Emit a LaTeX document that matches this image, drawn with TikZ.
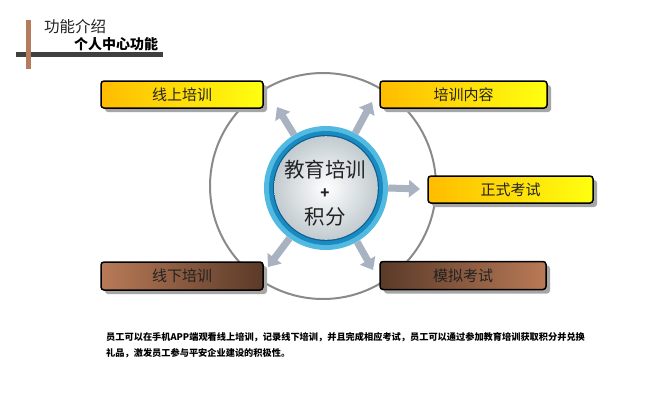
\documentclass[tikz,border=0pt]{standalone}
\usepackage{fontspec}
\setmainfont{Noto Sans CJK SC}
\usetikzlibrary{arrows.meta,shadows}
\definecolor{yelL}{HTML}{FFBC00}
\definecolor{yelR}{HTML}{FFFF10}
\definecolor{brL}{HTML}{B97A57}
\definecolor{brD}{HTML}{5A3A28}
\definecolor{orbitc}{HTML}{8A8A8A}
\definecolor{arrc}{HTML}{A8B2C0}
\definecolor{barD}{HTML}{404040}
\definecolor{barB}{HTML}{B57B5C}
\definecolor{ring1}{HTML}{52BAE0}
\definecolor{ring2}{HTML}{1A8AC2}
\definecolor{ring3}{HTML}{0F5F88}
\definecolor{diskO}{HTML}{C2CBD0}
\definecolor{txt}{HTML}{222222}
\begin{document}
\begin{tikzpicture}[x=1bp,y=-1bp,
  box/.style={draw=black, line width=1.5bp, rounded corners=3bp,
    minimum height=27bp, inner sep=0pt, text=txt,
    font=\fontsize{15bp}{18bp}\selectfont,
    drop shadow={shadow xshift=4bp, shadow yshift=-4bp, fill=black!35, opacity=1}},
  ybox/.style={box, left color=yelL, right color=yelR},
  bboxLD/.style={box, left color=brL, right color=brD},
  bboxDL/.style={box, left color=brD, right color=brL},
  garrow/.style={draw=arrc, line width=7bp, -{Triangle[width=17bp,length=11bp]}},
  ctext/.style={text=txt, font=\fontsize{20.5bp}{24bp}\selectfont, inner sep=0pt},
  btext/.style={anchor=west, inner sep=0pt, text=black, font=\bfseries\fontsize{9.2bp}{11bp}\selectfont}
]
\useasboundingbox (0,0) rectangle (645,400);
\fill[white] (0,0) rectangle (645,400);

% header
\fill[barD] (16,52) rectangle (163,57);
\fill[barB] (26,20) rectangle (31,69);
\node[anchor=west, inner sep=0pt, text=txt, font=\fontsize{15.5bp}{18bp}\selectfont] (h1) at (44,27) {功能介绍};
\node[anchor=west, inner sep=0pt, text=black, font=\bfseries\fontsize{14bp}{16bp}\selectfont] (h2) at (74,44) {个人中心功能};

% orbit circle
\node[circle, draw=orbitc, line width=2bp, minimum size=226bp, inner sep=0pt] (orbit) at (323,186) {};

% boxes
\node[ybox, minimum width=162bp] (b1) at (182,94.5) {线上培训};
\node[ybox, minimum width=167bp] (b2) at (463.5,94.5) {培训内容};
\node[ybox, minimum width=165bp] (b3) at (510.5,189.5) {正式考试};
\node[bboxLD, minimum width=162bp, minimum height=28bp] (b4) at (182,276) {线下培训};
\node[bboxDL, minimum width=166bp, minimum height=28bp] (b5) at (463,275.5) {模拟考试};

% centre placeholder and arrows
\node[circle, minimum size=124bp, inner sep=0pt] (c) at (326,188) {};
\coordinate (tUL) at (277,107);
\coordinate (tUR) at (372,102);
\coordinate (tR) at (420,189);
\coordinate (tLL) at (268,267);
\coordinate (tLR) at (373,270);
\draw[garrow] (c.121) -- (tUL);
\draw[garrow] (c.62) -- (tUR);
\draw[garrow] (c.0) -- (tR);
\draw[garrow] (c.234) -- (tLL);
\draw[garrow] (c.300) -- (tLR);

% ring
\fill[ring1] (c.center) circle (62);
\fill[ring2] (c.center) circle (57);
\fill[ring3] (c.center) circle (53);
\shade[inner color=white, outer color=diskO] (c.center) circle (51.8);

\node[ctext] (t1) at (325,170) {教育培训};
\node[ctext, font=\bfseries\fontsize{15bp}{18bp}\selectfont] (t2) at (325,194) {+};
\node[ctext] (t3) at (325,217) {积分};

% description
\node[btext] (d1) at (106,337) {员工可以在手机APP端观看线上培训，记录线下培训，并且完成相应考试，员工可以通过参加教育培训获取积分并兑换};
\node[btext] (d2) at (106,353) {礼品，激发员工参与平安企业建设的积极性。};
\end{tikzpicture}
\end{document}
